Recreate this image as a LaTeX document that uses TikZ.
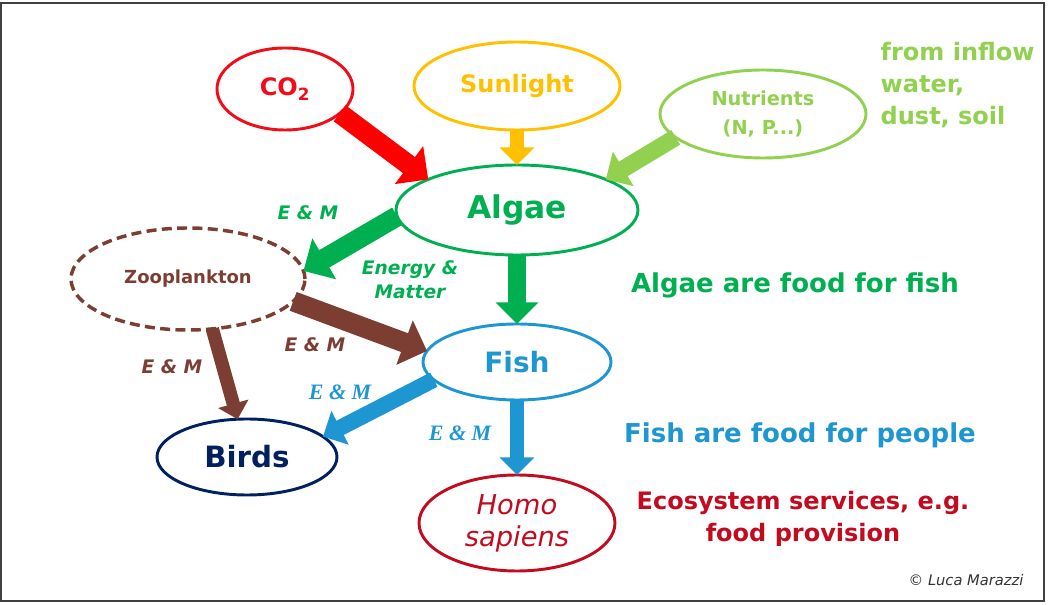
\documentclass[tikz,border=0pt]{standalone}
\usepackage{fontspec}
\setmainfont{DejaVu Sans}
\newfontfamily\emfont{Liberation Serif}
\usetikzlibrary{arrows.meta,shapes.geometric}
\definecolor{cored}{RGB}{240,12,24}
\definecolor{sunyel}{RGB}{255,192,0}
\definecolor{nutgrn}{RGB}{146,208,80}
\definecolor{alggrn}{RGB}{0,176,80}
\definecolor{zoobrn}{RGB}{124,62,50}
\definecolor{fishblu}{RGB}{30,150,210}
\definecolor{birdnav}{RGB}{0,32,96}
\definecolor{homored}{RGB}{195,10,30}
\begin{document}
\begin{tikzpicture}
  [x=0.75pt,y=-0.75pt,
   blob/.style={ellipse,draw,line width=2.2pt,inner sep=0,outer sep=0,align=center},
   flow/.style={line width=#1,-{Triangle[length=0pt 1.2,width=0pt 2.3]}},
   tag/.style={font=\bfseries\itshape\fontsize{14}{18}\selectfont,align=center},
   serif tag/.style={font=\emfont\bfseries\itshape\fontsize{16.5}{18}\selectfont},
   note/.style={font=\bfseries\fontsize{19.5}{24}\selectfont,align=center}]
  \useasboundingbox (0,0) rectangle (1050,605);
  \draw[line width=1.5pt,black!75] (1,3) rectangle (1044,601);
  % sources
  \node[blob,draw=cored,text=cored,minimum width=102pt,minimum height=61.5pt,
        font=\bfseries\fontsize{18}{20}\selectfont] (C) at (285,89) {CO\textsubscript{2}};
  \node[blob,draw=sunyel,text=sunyel,minimum width=154.5pt,minimum height=66pt,
        font=\bfseries\fontsize{18}{20}\selectfont] (S) at (517,86) {Sunlight};
  \node[blob,draw=nutgrn,text=nutgrn,minimum width=154.5pt,minimum height=66pt,
        font=\bfseries\fontsize{14.5}{22}\selectfont] (N) at (763,114) {Nutrients\\(N, P...)};
  % food web
  \node[blob,draw=alggrn,text=alggrn,minimum width=181.5pt,minimum height=67.5pt,
        font=\bfseries\fontsize{23.5}{26}\selectfont] (A) at (517,210) {Algae};
  \node[blob,draw=zoobrn,text=zoobrn,dashed,dash pattern=on 7.5pt off 4pt,line width=2.6pt,
        minimum width=175.5pt,minimum height=76.5pt,
        font=\bfseries\fontsize{13.5}{16}\selectfont] (Z) at (188,279) {Zooplankton};
  \node[blob,draw=fishblu,text=fishblu,minimum width=141pt,minimum height=57pt,
        font=\bfseries\fontsize{21}{24}\selectfont] (F) at (517,362) {Fish};
  \node[blob,draw=birdnav,text=birdnav,minimum width=135pt,minimum height=57pt,
        font=\bfseries\fontsize{22}{24}\selectfont] (B) at (247,457) {Birds};
  \node[blob,draw=homored,text=homored,minimum width=147pt,minimum height=72pt,
        font=\itshape\fontsize{20.5}{24}\selectfont] (H) at (517,523) {Homo\\sapiens};
  % side notes
  \node[note,anchor=west,align=left,text=nutgrn,font=\bfseries\fontsize{18}{24}\selectfont]
       (T1) at (876,85) {from inflow\\water,\\dust, soil};
  \node[note,text=alggrn] (T2) at (795,285) {Algae are food for fish};
  \node[note,text=fishblu] (T3) at (800,435) {Fish are food for people};
  \node[note,text=homored,font=\bfseries\fontsize{18}{24}\selectfont] (T4) at (803,519)
       {Ecosystem services, e.g.\\food provision};
  \node[font=\itshape\fontsize{11}{13}\selectfont,text=black!80] (T5) at (966,580) {\textcopyright{} Luca Marazzi};
  % flow labels
  \node[tag,text=alggrn] (e1) at (308,213) {E \& M};
  \node[tag,text=alggrn] (e2) at (410,280) {Energy \&\\Matter};
  \node[tag,text=zoobrn] (e3) at (315,345) {E \& M};
  \node[tag,text=zoobrn] (e4) at (172,367) {E \& M};
  \node[serif tag,text=fishblu] (e5) at (340,392) {E \& M};
  \node[serif tag,text=fishblu] (e6) at (460,433) {E \& M};
  % arrows
  \draw[flow=15pt,draw=red,fill=red] (C.-24) to (A.161);
  \draw[flow=11pt,draw=sunyel,fill=sunyel] (S.south) to (A.north);
  \draw[flow=12.75pt,draw=nutgrn,fill=nutgrn] (N.195) to (A.19);
  \draw[flow=15pt,draw=alggrn,fill=alggrn] (A.183) to (Z.4);
  \draw[flow=13.5pt,draw=alggrn,fill=alggrn] (A.south) to (F.north);
  \draw[flow=15pt,draw=zoobrn,fill=zoobrn] (Z.-12) to (F.173);
  \draw[flow=10pt,draw=zoobrn,fill=zoobrn] (Z.-64) to (B.104);
  \draw[flow=12pt,draw=fishblu,fill=fishblu] (F.192) to (B.15);
  \draw[flow=11pt,draw=fishblu,fill=fishblu] (F.south) to (H.north);
\end{tikzpicture}
\end{document}
